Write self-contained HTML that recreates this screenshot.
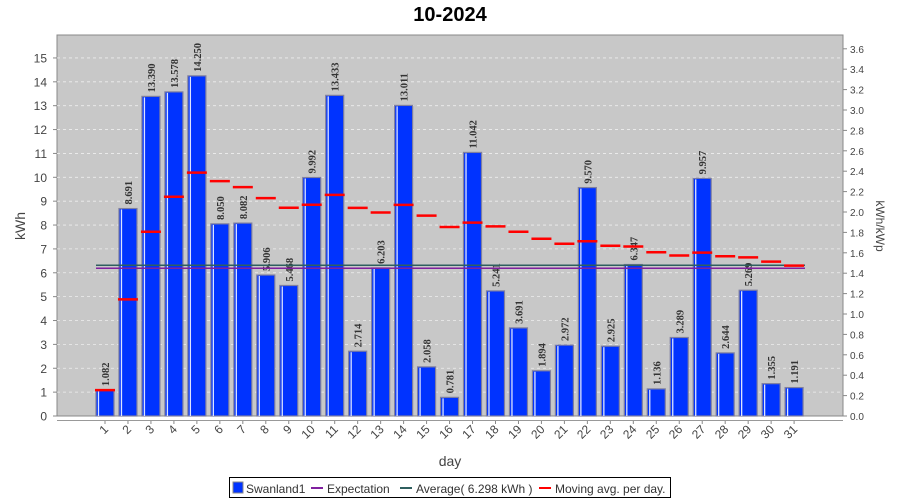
<!DOCTYPE html>
<html><head><meta charset="utf-8"><style>
body{margin:0;background:#fff;}
svg{display:block;font-family:"Liberation Sans",sans-serif;}
</style></head><body>
<svg id="s" width="900" height="500" xmlns="http://www.w3.org/2000/svg">
<rect x="0" y="0" width="900" height="500" fill="#fff"/>
<text x="450" y="21" text-anchor="middle" font-size="20" font-weight="bold" fill="#000">10-2024</text>
<rect x="57" y="35" width="786" height="381" fill="#c8c8c8" stroke="#888" stroke-width="1"/>
<g id="g"></g>
<text x="25" y="226" font-size="14" fill="#444" text-anchor="middle" transform="rotate(-90 25 226)">kWh</text>
<text x="876" y="226" font-size="12" fill="#444" text-anchor="middle" transform="rotate(90 876 226)">kWh/kWp</text>
<text x="450" y="466" font-size="14" fill="#444" text-anchor="middle">day</text>
<rect x="229.5" y="477.5" width="441" height="20" fill="#fff" stroke="#000"/>
<rect x="233" y="482" width="10" height="11" fill="#0033ff" stroke="#888"/>
<text x="246" y="493" font-size="12" fill="#333">Swanland1</text>
<line x1="311" y1="488" x2="323" y2="488" stroke="#80209f" stroke-width="2"/>
<text x="327" y="493" font-size="12" fill="#333">Expectation</text>
<line x1="400" y1="488" x2="412" y2="488" stroke="#2f5f5f" stroke-width="2"/>
<text x="416" y="493" font-size="12" fill="#333">Average( 6.298 kWh )</text>
<line x1="539" y1="488" x2="551" y2="488" stroke="#ff0000" stroke-width="2"/>
<text x="555" y="493" font-size="12" fill="#333">Moving avg. per day.</text>
</svg>
<script>
var v=[1.082,8.691,13.390,13.578,14.250,8.050,8.082,5.906,5.468,9.992,13.433,2.714,6.203,13.011,2.058,0.781,11.042,5.241,3.691,1.894,2.972,9.570,2.925,6.347,1.136,3.289,9.957,2.644,5.269,1.355,1.191];
var g=document.getElementById('g'),h='';
var Y=function(k){return 416-k*23.87;};
for(var k=1;k<=15;k++){var y=Y(k);h+='<line x1="57" y1="'+y+'" x2="843" y2="'+y+'" stroke="#eee" stroke-dasharray="3,3" stroke-width="0.8"/>';}
for(var k=0;k<=15;k++){var y=Y(k);h+='<line x1="53" y1="'+y+'" x2="57" y2="'+y+'" stroke="#888"/><text x="47" y="'+(y+4.5)+'" font-size="12" fill="#444" text-anchor="end">'+k+'</text>';}
for(var k=0;k<=18;k++){var y=416-k*20.4;h+='<line x1="843" y1="'+y+'" x2="847" y2="'+y+'" stroke="#888"/><text x="850" y="'+(y+4)+'" font-size="10" fill="#444">'+(k*0.2).toFixed(1)+'</text>';}
h+='<line x1="57" y1="420.5" x2="843" y2="420.5" stroke="#999"/>';
var s=0;
for(var i=0;i<31;i++){
 var c=105+i*22.97,t=Y(v[i]),x=c-9;
 h+='<rect x="'+x+'" y="'+t+'" width="18" height="'+(416-t)+'" fill="#0033ff" stroke="#7f7f9f" stroke-width="1.2"/>';
 h+='<line x1="'+(x+2.5)+'" y1="'+(t+1)+'" x2="'+(x+2.5)+'" y2="416" stroke="#dde4ff" stroke-width="1.3"/>';
 h+='<text x="0" y="0" font-family="Liberation Serif,serif" font-size="10.5" font-weight="bold" fill="#333" transform="translate('+(c+4)+','+(t-4)+') rotate(-90)">'+v[i].toFixed(3)+'</text>';
 h+='<line x1="'+c+'" y1="421" x2="'+c+'" y2="424" stroke="#888"/>';
 h+='<text x="0" y="0" font-size="12" fill="#444" text-anchor="end" transform="translate('+(c+4)+',430) rotate(-45)">'+(i+1)+'</text>';
}
h+='<line x1="96" y1="268.3" x2="805" y2="268.3" stroke="#80209f" stroke-width="1.5"/>';
h+='<line x1="96" y1="265.3" x2="805" y2="265.3" stroke="#2f5f5f" stroke-width="1.5"/>';
for(var i=0;i<31;i++){s+=v[i];var c=105+i*22.97,y=Y(s/(i+1));
 h+='<line x1="'+(c-10)+'" y1="'+y+'" x2="'+(c+10)+'" y2="'+y+'" stroke="#ff0000" stroke-width="2.5"/>';}
g.innerHTML=h;
</script>
</body></html>
